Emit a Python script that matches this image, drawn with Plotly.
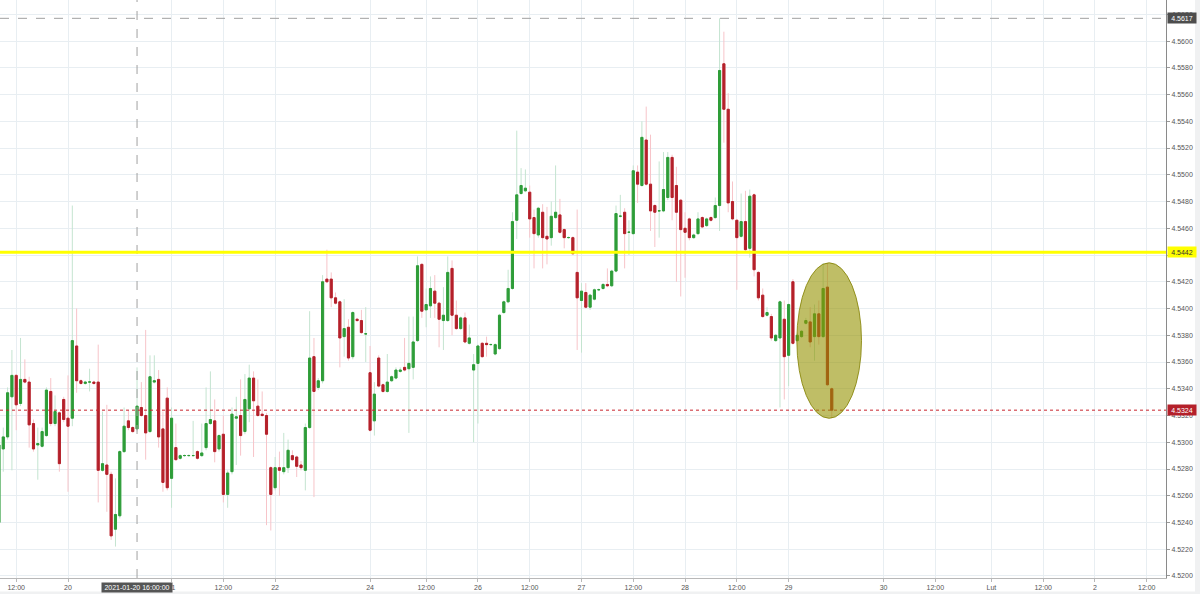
import plotly.graph_objects as go

# ---- data: hourly EUR/PLN-like candles, bar index 0 = 2021-01-20 00:00 ----
bar_start = -16
opens = [
4.5240,4.5295,4.5304,4.5334,4.5350,4.5329,4.5347,4.5345,4.5314,4.5298,4.5297,4.5305,4.5338,4.5314,4.5322,4.5332,
4.5318,4.5318,4.5372,4.5346,4.5344,4.5345,4.5345,4.5345,4.5279,4.5283,4.5276,4.5235,4.5245,4.5293,4.5316,4.5311,
4.5310,4.5326,4.5320,4.5308,4.5345,4.5347,4.5310,4.5333,4.5273,4.5296,4.5288,4.5290,4.5290,4.5290,4.5293,4.5290,
4.5296,4.5314,4.5316,4.5295,4.5306,4.5261,4.5278,4.5318,4.5320,4.5308,4.5325,4.5348,4.5327,4.5321,4.5320,4.5281,
4.5266,4.5281,4.5278,4.5281,4.5290,4.5289,4.5283,4.5279,4.5311,4.5364,4.5341,4.5346,4.5422,4.5422,4.5408,4.5405,
4.5379,4.5386,4.5364,4.5392,4.5391,4.5381,4.5352,4.5316,4.5363,4.5343,4.5338,4.5346,4.5348,4.5353,4.5356,4.5355,
4.5356,4.5376,4.5433,4.5399,4.5402,4.5413,4.5404,4.5391,4.5391,4.5430,4.5395,4.5385,4.5393,4.5374,4.5354,4.5359,
4.5374,4.5374,4.5373,4.5366,4.5370,4.5397,4.5405,4.5415,4.5466,4.5486,4.5488,4.5487,4.5468,4.5455,4.5472,4.5454,
4.5453,4.5468,4.5470,4.5459,4.5453,4.5453,4.5427,4.5406,4.5412,4.5401,4.5407,4.5414,4.5415,4.5418,4.5417,4.5428,
4.5469,4.5472,4.5457,4.5456,4.5502,4.5492,4.5526,4.5493,4.5477,4.5473,4.5473,4.5483,4.5513,4.5492,4.5481,4.5460,
4.5467,4.5453,4.5456,4.5468,4.5462,4.5468,4.5468,4.5477,4.5583,4.5549,4.5480,4.5466,4.5454,4.5465,4.5445,4.5485,
4.5427,4.5410,4.5395,4.5394,4.5376,4.5378,4.5392,4.5365,4.5420,4.5376,4.5379,4.5389,4.5390,4.5379,4.5396,4.5379,
4.5416,4.5340]
highs = [
4.5302,4.5311,4.5341,4.5369,4.5351,4.5378,4.5362,4.5349,4.5317,4.5311,4.5311,4.5341,4.5348,4.5335,4.5323,4.5334,
4.5350,4.5477,4.5400,4.5347,4.5346,4.5355,4.5346,4.5373,4.5323,4.5328,4.5278,4.5273,4.5294,4.5326,4.5324,4.5312,
4.5356,4.5345,4.5384,4.5365,4.5365,4.5354,4.5323,4.5341,4.5326,4.5314,4.5291,4.5291,4.5291,4.5316,4.5294,4.5314,
4.5341,4.5353,4.5332,4.5306,4.5320,4.5279,4.5326,4.5334,4.5347,4.5351,4.5358,4.5353,4.5347,4.5338,4.5322,4.5282,
4.5289,4.5293,4.5307,4.5302,4.5294,4.5290,4.5286,4.5314,4.5398,4.5378,4.5348,4.5425,4.5444,4.5427,4.5412,4.5406,
4.5407,4.5392,4.5398,4.5393,4.5399,4.5401,4.5372,4.5345,4.5365,4.5344,4.5366,4.5350,4.5356,4.5356,4.5378,4.5394,
4.5394,4.5439,4.5434,4.5415,4.5424,4.5425,4.5405,4.5416,4.5439,4.5436,4.5406,4.5394,4.5397,4.5388,4.5366,4.5373,
4.5375,4.5379,4.5374,4.5374,4.5396,4.5406,4.5429,4.5472,4.5533,4.5505,4.5504,4.5492,4.5474,4.5476,4.5478,4.5476,
4.5480,4.5507,4.5482,4.5460,4.5454,4.5454,4.5474,4.5419,4.5419,4.5411,4.5415,4.5415,4.5419,4.5430,4.5429,4.5477,
4.5485,4.5475,4.5466,4.5507,4.5507,4.5540,4.5551,4.5530,4.5478,4.5510,4.5517,4.5517,4.5515,4.5506,4.5482,4.5472,
4.5468,4.5456,4.5472,4.5469,4.5468,4.5469,4.5483,4.5617,4.5607,4.5561,4.5495,4.5467,4.5486,4.5488,4.5489,4.5486,
4.5428,4.5415,4.5401,4.5396,4.5381,4.5406,4.5406,4.5404,4.5422,4.5382,4.5384,4.5393,4.5401,4.5403,4.5406,4.5434,
4.5434,4.5341]
lows = [
4.5238,4.5278,4.5302,4.5279,4.5309,4.5327,4.5344,4.5296,4.5293,4.5272,4.5296,4.5304,4.5312,4.5312,4.5278,4.5315,
4.5263,4.5312,4.5337,4.5343,4.5343,4.5338,4.5343,4.5255,4.5278,4.5248,4.5227,4.5222,4.5243,4.5292,4.5309,4.5307,
4.5308,4.5319,4.5287,4.5307,4.5344,4.5296,4.5263,4.5264,4.5251,4.5286,4.5287,4.5289,4.5289,4.5289,4.5287,4.5289,
4.5294,4.5313,4.5285,4.5293,4.5255,4.5251,4.5276,4.5283,4.5290,4.5306,4.5315,4.5289,4.5319,4.5319,4.5238,4.5234,
4.5264,4.5260,4.5276,4.5277,4.5286,4.5274,4.5279,4.5264,4.5310,4.5259,4.5339,4.5344,4.5419,4.5401,4.5403,4.5356,
4.5364,4.5361,4.5362,4.5390,4.5381,4.5360,4.5308,4.5305,4.5341,4.5337,4.5337,4.5345,4.5347,4.5352,4.5353,4.5307,
4.5347,4.5375,4.5393,4.5386,4.5393,4.5393,4.5371,4.5369,4.5390,4.5380,4.5384,4.5384,4.5374,4.5373,4.5300,4.5314,
4.5363,4.5364,4.5372,4.5365,4.5369,4.5396,4.5404,4.5414,4.5452,4.5485,4.5487,4.5453,4.5430,4.5453,4.5430,4.5433,
4.5447,4.5467,4.5456,4.5445,4.5452,4.5440,4.5369,4.5367,4.5400,4.5399,4.5406,4.5413,4.5414,4.5416,4.5416,4.5427,
4.5468,4.5430,4.5440,4.5455,4.5479,4.5491,4.5492,4.5458,4.5446,4.5453,4.5472,4.5481,4.5466,4.5420,4.5409,4.5423,
4.5451,4.5452,4.5455,4.5460,4.5461,4.5465,4.5467,4.5458,4.5524,4.5472,4.5466,4.5414,4.5453,4.5443,4.5438,4.5424,
4.5406,4.5393,4.5394,4.5376,4.5375,4.5326,4.5332,4.5342,4.5373,4.5375,4.5378,4.5388,4.5371,4.5361,4.5373,4.5378,
4.5342,4.5318]
closes = [
4.5298,4.5304,4.5337,4.5350,4.5328,4.5347,4.5345,4.5313,4.5295,4.5299,4.5308,4.5339,4.5314,4.5323,4.5284,4.5317,
4.5312,4.5376,4.5346,4.5344,4.5345,4.53451,4.5344,4.5279,4.5284,4.5276,4.5230,4.5246,4.5293,4.5312,4.5311,4.5308,
4.5327,4.5320,4.5307,4.5349,4.5346,4.5304,4.5270,4.5266,4.5318,4.5287,4.5290,4.52901,4.52901,4.52901,4.5288,4.5292,
4.5314,4.5317,4.5293,4.5305,4.5261,4.5277,4.5321,4.5319,4.5305,4.5332,4.5348,4.5331,4.5320,4.5320,4.5306,4.5261,
4.5281,4.5279,4.5281,4.5294,4.5287,4.5282,4.5281,4.5311,4.5363,4.5338,4.5346,4.5420,4.5420,4.5408,4.5404,4.5378,
4.5385,4.5363,4.5397,4.5391,4.5382,4.53811,4.5309,4.5336,4.5342,4.5338,4.5345,4.5349,4.5354,4.5354,4.5354,4.5359,
4.5375,4.5432,4.5398,4.5403,4.5415,4.5404,4.5392,4.5395,4.5427,4.5395,4.5385,4.5393,4.5375,4.5378,4.5358,4.5372,
4.5364,4.5373,4.53731,4.5373,4.5395,4.5405,4.5415,4.5465,4.5485,4.5492,4.5490,4.5467,4.5456,4.5475,4.5453,4.5452,
4.5469,4.5472,4.5457,4.5453,4.54531,4.5441,4.5408,4.5413,4.5401,4.5410,4.5414,4.54141,4.5418,4.5417,4.5428,4.5471,
4.54691,4.5456,4.54571,4.5503,4.5493,4.5528,4.5493,4.5473,4.5472,4.54731,4.5489,4.5513,4.5483,4.5472,4.5459,4.5457,
4.5453,4.5455,4.5467,4.5461,4.5467,4.5466,4.5477,4.5578,4.5549,4.5479,4.5467,4.5453,4.5465,4.5444,4.5484,4.5429,
4.5408,4.5394,4.5397,4.5378,4.5380,4.5405,4.5364,4.5403,4.5374,4.5380,4.5383,4.5391,4.5375,4.5396,4.5379,4.5415,
4.5343,4.5324]

# axis ticks (bar index -> label)
tick_index = [-12, 0, 24, 36, 48, 70, 83, 95, 107, 119, 131, 143, 155, 167, 189, 201, 214, 226, 238, 250]
tick_text = ["12:00", "20", "21", "12:00", "22", "24", "12:00", "26", "12:00", "27", "12:00", "28", "12:00",
             "29", "30", "12:00", "Lut", "12:00", "2", "12:00"]
price_ticks = [round(4.5200 + 0.002 * k, 4) for k in range(22)]

level_resistance = 4.5442
level_last = 4.5324
level_high = 4.5617
cross_index = 16
cross_label = "2021-01-20 16:00:00"
highlight_x = [168.9, 183.9]
highlight_y = [4.53179, 4.54342]

n = len(opens)
assert len(highs) == n and len(lows) == n and len(closes) == n
bars = list(range(bar_start, bar_start + n))

GREEN = "#2e9d38"
RED = "#b4202a"
GREEN_W = "#c4e4d0"
RED_W = "#f7c4c9"
FONT = "Liberation Sans, Arial, sans-serif"

fig = go.Figure()
# wicks (pale)
fig.add_trace(go.Candlestick(
    x=bars, open=opens, high=highs, low=lows, close=closes,
    increasing=dict(line=dict(color=GREEN_W, width=1), fillcolor=GREEN_W),
    decreasing=dict(line=dict(color=RED_W, width=1), fillcolor=RED_W),
    whiskerwidth=0, hoverinfo="skip", showlegend=False))
# bodies (solid)
body_hi = [max(o, c) for o, c in zip(opens, closes)]
body_lo = [min(o, c) for o, c in zip(opens, closes)]
fig.add_trace(go.Candlestick(
    x=bars, open=opens, high=body_hi, low=body_lo, close=closes,
    increasing=dict(line=dict(color=GREEN, width=1), fillcolor=GREEN),
    decreasing=dict(line=dict(color=RED, width=1), fillcolor=RED),
    whiskerwidth=0, showlegend=False))

shapes = [
    dict(type="line", xref="paper", x0=0, x1=1, yref="y", y0=level_high, y1=level_high,
         line=dict(color="#a0a0a0", width=1, dash="dash"), layer="above"),
    dict(type="line", xref="x", x0=cross_index, x1=cross_index, yref="paper", y0=0, y1=1,
         line=dict(color="#a0a0a0", width=1, dash="dash"), layer="above"),
    dict(type="line", xref="paper", x0=0, x1=1, yref="y", y0=level_last, y1=level_last,
         line=dict(color="#c8232c", width=1, dash="dot"), layer="above"),
    dict(type="line", xref="paper", x0=0, x1=1, yref="y", y0=level_resistance, y1=level_resistance,
         line=dict(color="#ffff00", width=3), layer="above"),
    dict(type="circle", xref="x", yref="y", x0=highlight_x[0], x1=highlight_x[1],
         y0=highlight_y[0], y1=highlight_y[1],
         fillcolor="rgba(148,146,0,0.6)", line=dict(color="rgba(130,128,0,0.8)", width=1), layer="above"),
    # light frame strips of the page
    dict(type="rect", xref="paper", yref="paper", x0=1195 / 1166, x1=1.05, y0=-0.05, y1=1.02,
         fillcolor="#f0f1f2", line=dict(width=0), layer="below"),
    dict(type="rect", xref="paper", yref="paper", x0=-0.01, x1=1.05, y0=-0.05, y1=(578 - 591.5) / 578,
         fillcolor="#f0f1f2", line=dict(width=0), layer="below"),
]

def price_label(val, bg, fg):
    return dict(x=1, xref="paper", xanchor="left", xshift=1, y=val, yref="y", yanchor="middle",
                text=f"{val:.4f}", showarrow=False, font=dict(family=FONT, size=7, color=fg),
                bgcolor=bg, width=28, height=10, borderpad=0, align="center")

annotations = [
    price_label(level_high, "#4d4d4d", "#ffffff"),
    price_label(level_resistance, "#ffff00", "#333333"),
    price_label(level_last, "#b4202a", "#ffffff"),
    dict(x=cross_index, xref="x", y=0, yref="paper", yanchor="top", yshift=-4,
         text=cross_label, showarrow=False, font=dict(family=FONT, size=7, color="#ffffff"),
         bgcolor="#555555", width=70, height=9, borderpad=0),
]

fig.update_layout(
    width=1200, height=594,
    margin=dict(l=0, r=34, t=0, b=16, autoexpand=False),
    paper_bgcolor="#ffffff", plot_bgcolor="#ffffff",
    font=dict(family=FONT, size=7, color="#555555"),
    showlegend=False, boxgap=0.3,
    shapes=shapes, annotations=annotations,
    xaxis=dict(range=[-15.76, 254.46], tickmode="array", tickvals=tick_index, ticktext=tick_text,
               showgrid=True, gridcolor="#e8eef2", gridwidth=1, zeroline=False,
               showline=True, linecolor="#b8b8b8", linewidth=1,
               ticks="outside", ticklen=3, tickcolor="#b8b8b8",
               tickfont=dict(family=FONT, size=7, color="#555555"),
               rangeslider=dict(visible=False), fixedrange=True),
    yaxis=dict(side="right", range=[4.51985, 4.56307], tickmode="array", tickvals=price_ticks,
               ticktext=[f"{v:.4f}" for v in price_ticks],
               showgrid=True, gridcolor="#e8eef2", gridwidth=1, zeroline=False,
               showline=True, linecolor="#8a8a8a", linewidth=1,
               ticks="outside", ticklen=3, tickcolor="#9a9a9a",
               tickfont=dict(family=FONT, size=7, color="#555555"), fixedrange=True),
)

fig.write_html("out.html", config={"displayModeBar": False},
               post_script="document.body.style.margin='0';document.body.style.overflow='hidden';")
